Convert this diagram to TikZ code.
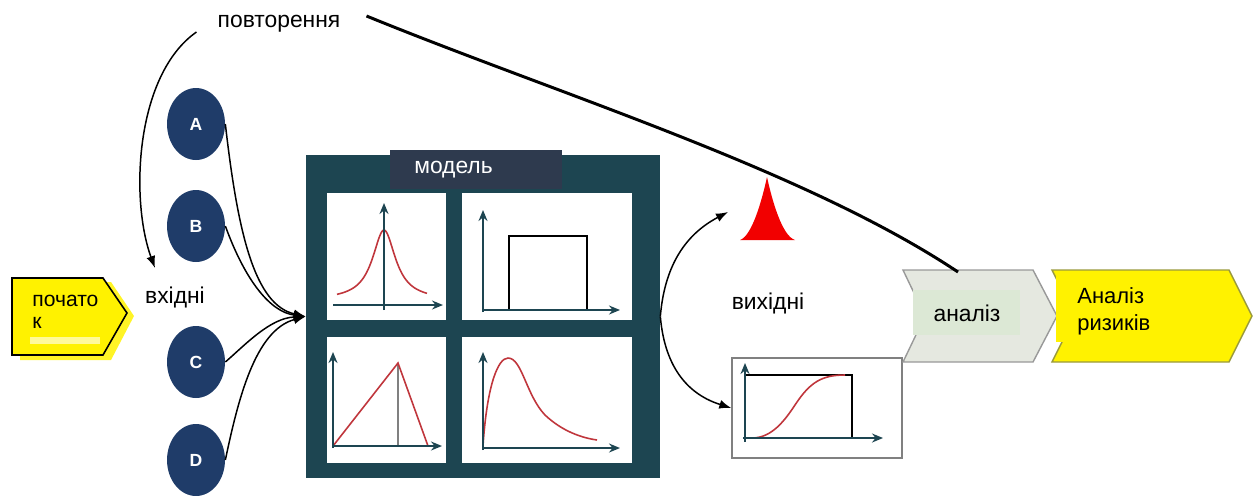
\documentclass[tikz,border=0pt]{standalone}
\usepackage{fontspec}
\setmainfont{Liberation Sans}
\usetikzlibrary{shapes.geometric, arrows.meta, calc}
\definecolor{navy}{HTML}{1F3C69}
\definecolor{boxcol}{HTML}{1D4551}
\definecolor{tabcol}{HTML}{2E3A4E}
\definecolor{curvecol}{HTML}{C0363C}
\definecolor{anfill}{HTML}{E5E8E0}
\definecolor{aninner}{HTML}{DCE8D5}
\definecolor{olive}{HTML}{9A9A3C}

\begin{document}
\begin{tikzpicture}[x=0.02cm, y=-0.02cm,
    every node/.style={font=\fontsize{13}{15.5}\selectfont},
    ball/.style={ellipse, fill=navy, text=white, minimum width=1.16cm, minimum height=1.44cm, inner sep=0pt, font=\fontsize{10}{12}\selectfont\bfseries},
    axis/.style={draw=boxcol, line width=0.9pt, -{Stealth[length=2.2mm, width=1.8mm]}},
    dist/.style={draw=curvecol, line width=0.9pt},
    link/.style={draw=black, line width=0.85pt, -{Latex[length=2.4mm, width=1.8mm]}}]
    \useasboundingbox (0,0) rectangle (1253,495);

    % start chevron
    \fill[yellow!85!white] (20,282) -- (111,282) -- (134,316) -- (111,360) -- (20,360) -- cycle;
    \filldraw[fill=yellow, draw=black, line width=0.9pt] (12,278) -- (103,278) -- (127,313) -- (103,355) -- (12,355) -- cycle;
    \fill[yellow!40!white] (30,337) rectangle (100,344);
    \node[align=left, anchor=base west, inner sep=0pt, font=\fontsize{12}{12}\selectfont] (start) at (32,328) {почато\\к};

    \node[fill=white, inner sep=3pt] (inputs) at (175,297) {вхідні};
    \node (repeat) at (279,24) {повторення};
    \coordinate (repend) at (155,268);

    % inputs
    \node[ball] (A) at (196,124) {A};
    \node[ball] (B) at (196,226) {B};
    \node[ball] (C) at (196,362) {C};
    \node[ball] (D) at (196,460) {D};

    % model
    \node[fill=boxcol, minimum width=7.08cm, minimum height=6.46cm, inner sep=0pt] (model) at (483,316.5) {};
    \node[fill=tabcol, text=white, minimum width=3.44cm, minimum height=0.78cm, inner sep=0pt, anchor=north] (tab) at (476,150) {\hspace*{-0.9cm}модель};
    \fill[white] (327,193) rectangle (446,320);
    \fill[white] (462,193) rectangle (632,320);
    \fill[white] (327,337) rectangle (446,463);
    \fill[white] (462,337) rectangle (632,463);

    % normal
    \draw[dist] plot[domain=337:427, samples=70] (\x, {300-70/(1+((\x-384)/14)^2)});
    \draw[axis] (333,305) -- (443,305);
    \draw[axis] (384,310) -- (384,203);
    % uniform
    \draw[black, line width=0.9pt] (509,310) -- (509,236) -- (587,236) -- (587,310);
    \draw[axis] (483,310) -- (620,310);
    \draw[axis] (483,312) -- (483,210);
    % triangular
    \draw[gray, line width=0.7pt] (398,363) -- (398,446);
    \draw[dist] (333,446) -- (398,363) -- (428,446);
    \draw[axis] (333,446) -- (442,446);
    \draw[axis] (333,448) -- (333,352);
    % skewed
    \draw[dist] (483,446) .. controls (487,385) and (498,358) .. (508,358) .. controls (522,358) and (526,395) .. (545,415) .. controls (563,432) and (583,438) .. (597,440);
    \draw[axis] (483,448) -- (620,448);
    \draw[axis] (483,450) -- (483,352);

    \draw[link] (A.east) .. controls (238,235) and (255,305) .. (model.west);
    \draw[link] (B.east) .. controls (245,280) and (270,312) .. (model.west);
    \draw[link] (C.east) .. controls (245,345) and (270,318) .. (model.west);
    \draw[link] (D.east) .. controls (238,400) and (255,330) .. (model.west);

    % outputs
    \fill[red!95!black] (740,240) .. controls (752,236) and (762,200) .. (767,177) .. controls (772,200) and (782,236) .. (795,240) -- cycle;
    \coordinate (peak) at (728,212);
    \node (outputs) at (768,303) {вихідні};
    \node[draw=gray, line width=0.8pt, fill=white, minimum width=3.4cm, minimum height=2cm, inner sep=0pt] (cdf) at (817,408) {};
    \draw[black, line width=0.9pt] (745,375) -- (852,375) -- (852,438);
    \draw[dist] (752,438) .. controls (772,438) and (785,420) .. (795,405) .. controls (810,382) and (822,375) .. (845,375);
    \draw[axis] (743,438) -- (883,438);
    \draw[axis] (745,442) -- (745,363);

    \draw[link] (model.east) .. controls (665,260) and (690,232) .. (peak);
    \draw[link] (model.east) .. controls (665,370) and (690,395) .. (cdf.west);

    % analysis chevrons
    \filldraw[fill=anfill, draw=gray!80, line width=0.8pt] (903,270) -- (1033,270) -- (1057,316) -- (1033,362) -- (903,362) -- (925,316) -- cycle;
    \fill[aninner] (913,290) rectangle (1020,335);
    \node (analysis) at (967,313) {аналіз};
    \coordinate (antop) at (958,272);
    \filldraw[fill=yellow, draw=olive, line width=0.8pt] (1052,270) -- (1229,270) -- (1252,316) -- (1229,362) -- (1052,362) -- (1075,316) -- cycle;
    \fill[yellow] (1056,274) rectangle (1180,342);
    \node[align=left, anchor=base west, inner sep=0pt, font=\fontsize{12.5}{15.3}\selectfont] (risk) at (1077,330) {Аналіз\\ризиків};

    % iteration
    \draw[link] ($(repeat.west)+(-15,8)$) .. controls (135,75) and (130,200) .. (repend);
    \draw[black, line width=1.7pt] ($(repeat.east)+(20,-8)$) .. controls (560,95) and (805,170) .. (antop);
\end{tikzpicture}
\end{document}
